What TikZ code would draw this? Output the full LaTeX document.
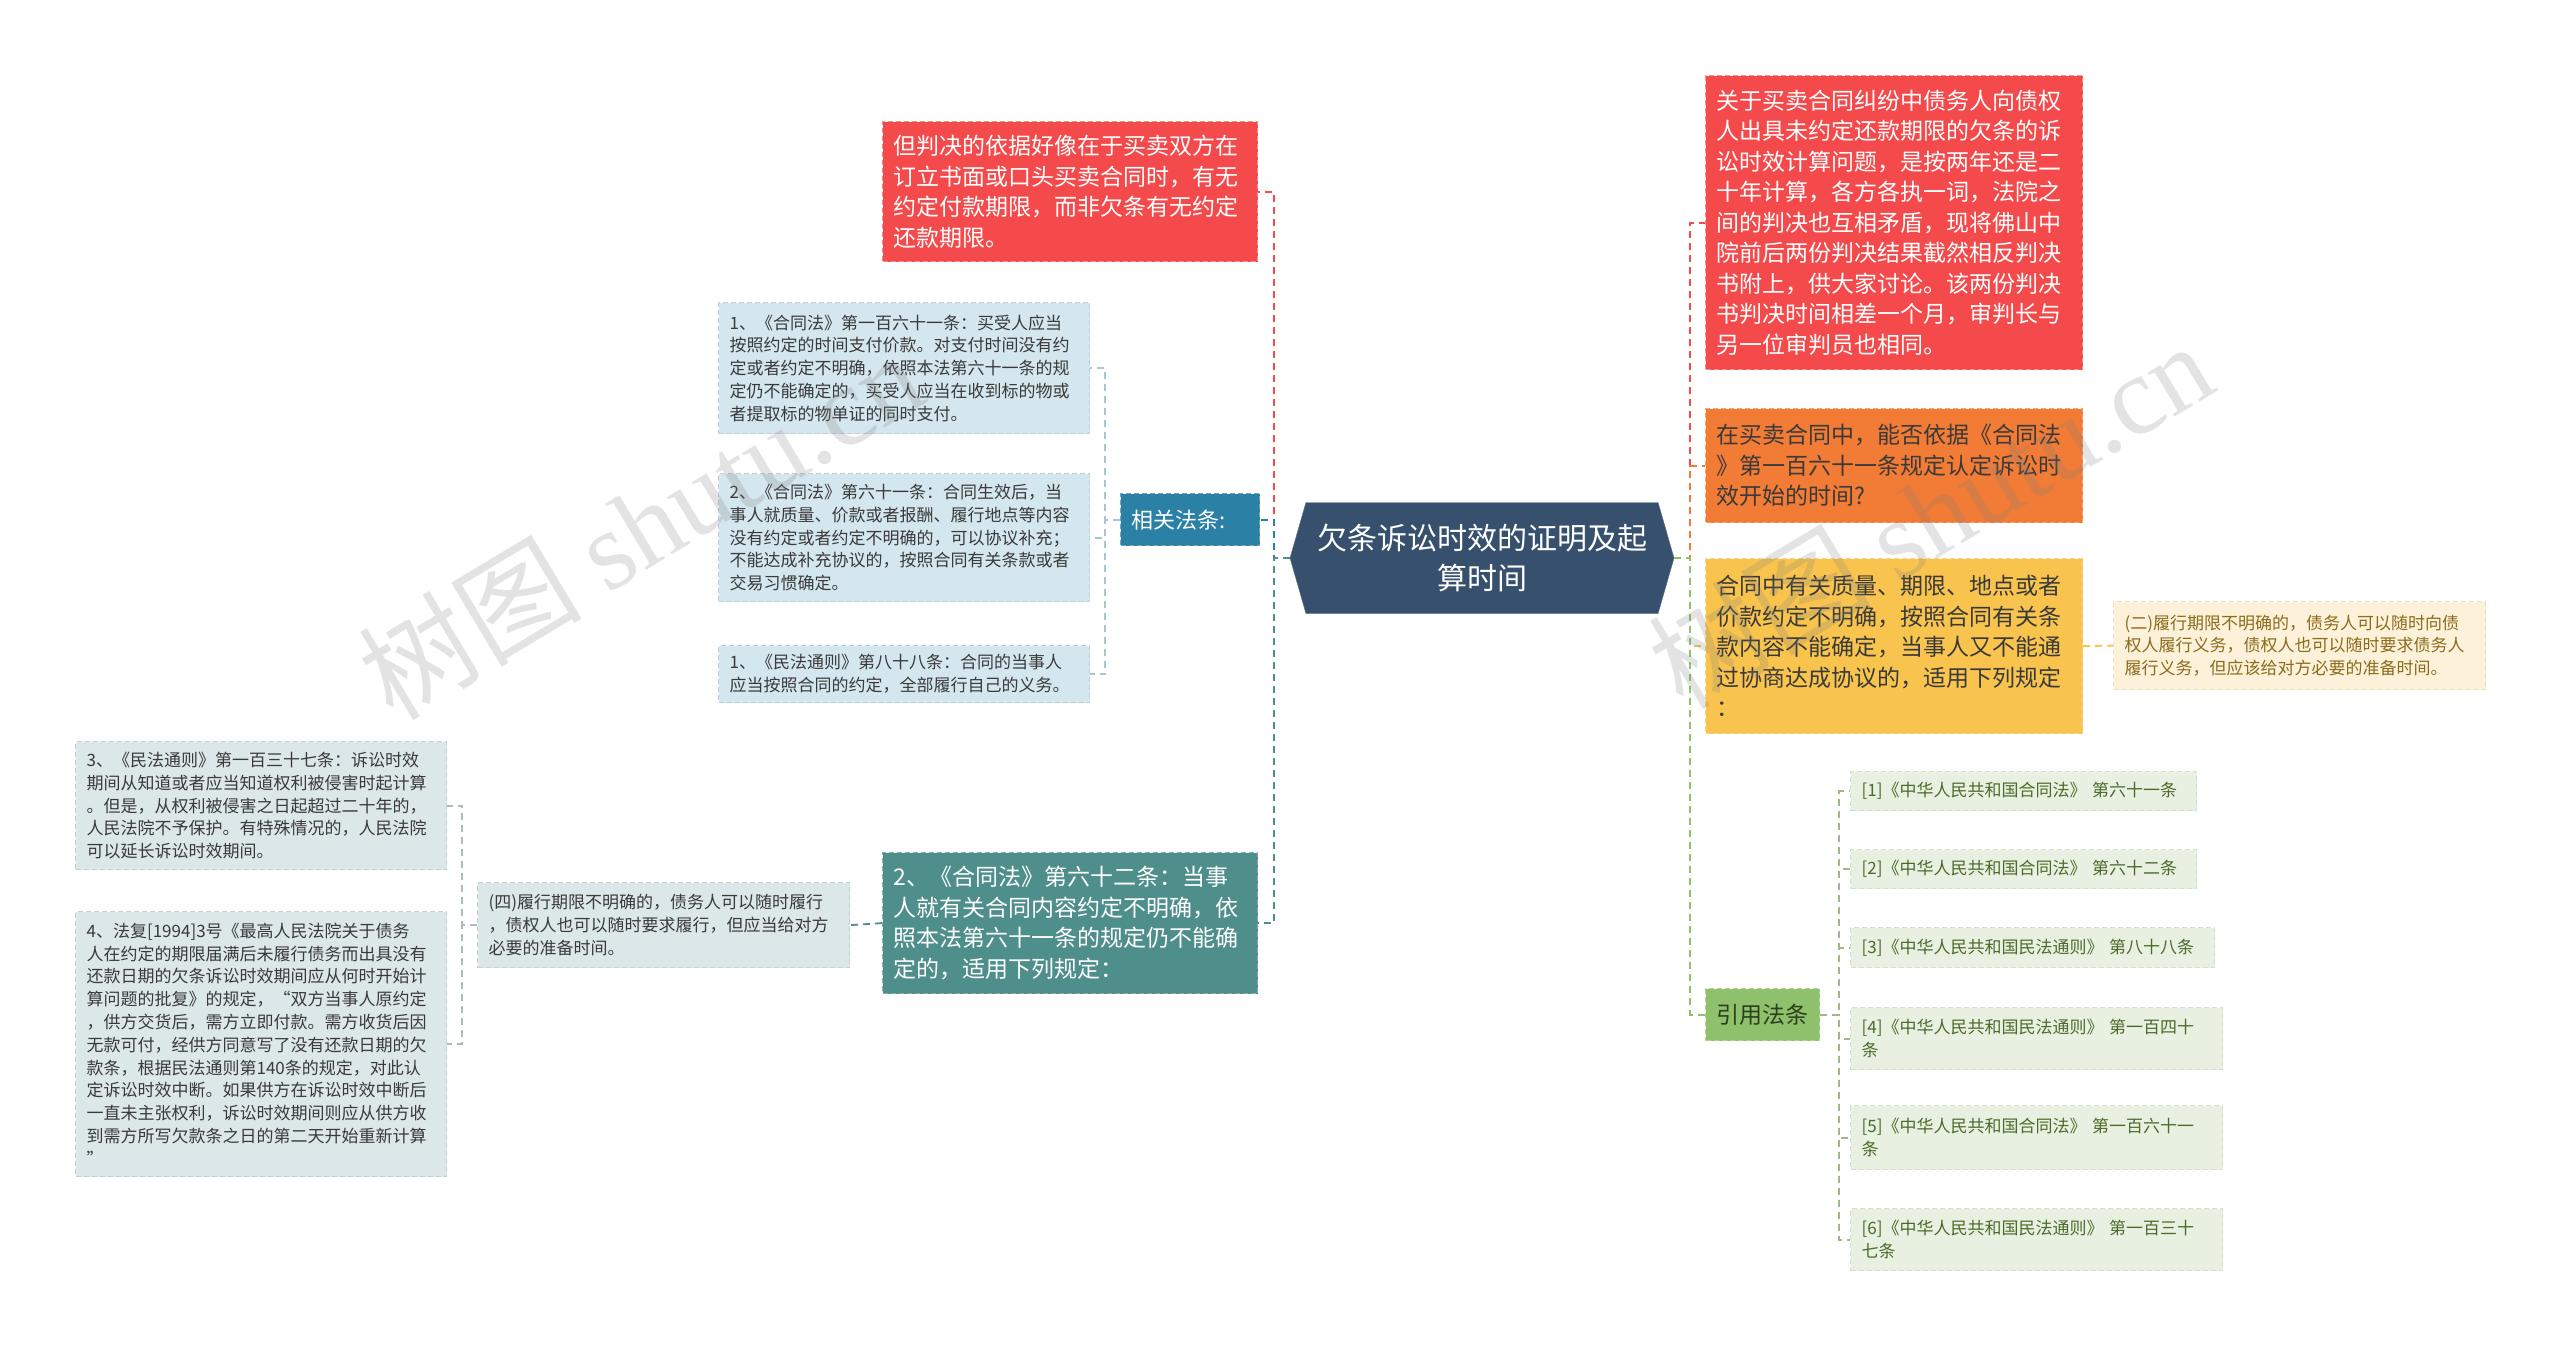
\documentclass[tikz,border=0pt]{standalone}
\usepackage{fontspec}
\setmainfont{Noto Sans CJK SC}
\newfontfamily\wmlatin{Liberation Serif}
\usetikzlibrary{shapes.symbols}
\definecolor{cen}{HTML}{36506D}
\definecolor{redc}{HTML}{F44A4B}
\definecolor{redb}{HTML}{F88A8A}
\definecolor{bluec}{HTML}{2B80A6}
\definecolor{tealc}{HTML}{4E8E8B}
\definecolor{lbc}{HTML}{D4E6EE}
\definecolor{lbl}{HTML}{A9C6D2}
\definecolor{grc}{HTML}{DCE7E9}
\definecolor{grl}{HTML}{A9BDC1}
\definecolor{orc}{HTML}{F27B35}
\definecolor{yec}{HTML}{F8C44D}
\definecolor{crc}{HTML}{FDF2D9}
\definecolor{crt}{HTML}{8B6B1C}
\definecolor{gnc}{HTML}{8FC06C}
\definecolor{gnt}{HTML}{2A3F1C}
\definecolor{rfc}{HTML}{E8F1E1}
\definecolor{rft}{HTML}{4C6B2A}
\definecolor{rfl}{HTML}{9DB98A}
\definecolor{txt}{HTML}{3A3A3A}
\begin{document}
\begin{tikzpicture}[x=1pt,y=-1pt,
  bx/.style={rectangle, anchor=north west, inner xsep=11pt, inner ysep=3pt, align=left, dash pattern=on 5pt off 3pt, line width=1.2pt},
  big/.style={font=\fontsize{23}{30.5}\selectfont},
  sm/.style={font=\fontsize{17}{22.8}\selectfont},
  ln/.style={line width=1.8pt, dash pattern=on 7pt off 5pt},
  wm/.style={rotate=31, text=gray, opacity=0.22, font=\fontsize{112}{112}\selectfont},
]
\useasboundingbox[fill=white] (0,0) rectangle (2560,1345);

% central
\node[signal, signal to=west and east, signal pointer angle=148, fill=cen, draw=cen!80!white, minimum width=384pt, minimum height=111pt, inner sep=0pt, text=white, align=center, font=\fontsize{30}{40}\selectfont] (c) at (1482,558) {欠条诉讼时效的证明及起\\算时间};

% left side
\node[bx,big,fill=redc,draw=redb,text=white,text width=353pt,minimum height=140pt] (rl) at (882,121) {但判决的依据好像在于买卖双方在\\订立书面或口头买卖合同时，有无\\约定付款期限，而非欠条有无约定\\还款期限。};
\node[bx,fill=bluec,draw=bluec!70!white,text=white,text width=117pt,minimum height=52pt,font=\fontsize{22}{26}\selectfont] (xg) at (1120,493) {相关法条:};
\node[bx,big,fill=tealc,draw=tealc!70!white,text=white,text width=353pt,minimum height=141pt] (tl) at (882,852) {2、《合同法》第六十二条：当事\\人就有关合同内容约定不明确，依\\照本法第六十一条的规定仍不能确\\定的，适用下列规定：};

\node[bx,sm,fill=lbc,draw=lbc!90!black,text=txt,text width=349pt,minimum height=131pt] (b1) at (718,302) {1、《合同法》第一百六十一条：买受人应当\\按照约定的时间支付价款。对支付时间没有约\\定或者约定不明确，依照本法第六十一条的规\\定仍不能确定的，买受人应当在收到标的物或\\者提取标的物单证的同时支付。};
\node[bx,sm,fill=lbc,draw=lbc!90!black,text=txt,text width=349pt,minimum height=128pt] (b2) at (718,473) {2、《合同法》第六十一条：合同生效后，当\\事人就质量、价款或者报酬、履行地点等内容\\没有约定或者约定不明确的，可以协议补充；\\不能达成补充协议的，按照合同有关条款或者\\交易习惯确定。};
\node[bx,sm,fill=lbc,draw=lbc!90!black,text=txt,text width=349pt,minimum height=57pt] (b3) at (718,645) {1、《民法通则》第八十八条：合同的当事人\\应当按照合同的约定，全部履行自己的义务。};

\node[bx,sm,fill=grc,draw=grc!90!black,text=txt,text width=350pt,minimum height=85pt] (s4) at (477,882) {(四)履行期限不明确的，债务人可以随时履行\\，债权人也可以随时要求履行，但应当给对方\\必要的准备时间。};
\node[bx,sm,fill=grc,draw=grc!90!black,text=txt,text width=349pt,minimum height=128pt] (l3) at (75,741) {3、《民法通则》第一百三十七条：诉讼时效\\期间从知道或者应当知道权利被侵害时起计算\\。但是，从权利被侵害之日起超过二十年的，\\人民法院不予保护。有特殊情况的，人民法院\\可以延长诉讼时效期间。};
\node[bx,sm,fill=grc,draw=grc!90!black,text=txt,text width=349pt,minimum height=265pt] (l4) at (75,911) {4、法复[1994]3号《最高人民法院关于债务\\人在约定的期限届满后未履行债务而出具没有\\还款日期的欠条诉讼时效期间应从何时开始计\\算问题的批复》的规定，“双方当事人原约定\\，供方交货后，需方立即付款。需方收货后因\\无款可付，经供方同意写了没有还款日期的欠\\款条，根据民法通则第140条的规定，对此认\\定诉讼时效中断。如果供方在诉讼时效中断后\\一直未主张权利，诉讼时效期间则应从供方收\\到需方所写欠款条之日的第二天开始重新计算\\”};

% right side
\node[bx,big,fill=redc,draw=redb,text=white,text width=355pt,minimum height=294pt] (rr) at (1705,75) {关于买卖合同纠纷中债务人向债权\\人出具未约定还款期限的欠条的诉\\讼时效计算问题，是按两年还是二\\十年计算，各方各执一词，法院之\\间的判决也互相矛盾，现将佛山中\\院前后两份判决结果截然相反判决\\书附上，供大家讨论。该两份判决\\书判决时间相差一个月，审判长与\\另一位审判员也相同。};
\node[bx,big,fill=orc,draw=orc!70!white,text=txt,text width=355pt,minimum height=114pt] (or) at (1705,408) {在买卖合同中，能否依据《合同法\\》第一百六十一条规定认定诉讼时\\效开始的时间?};
\node[bx,big,fill=yec,draw=yec!70!white,text=txt,text width=355pt,minimum height=175pt] (ye) at (1705,558) {合同中有关质量、期限、地点或者\\价款约定不明确，按照合同有关条\\款内容不能确定，当事人又不能通\\过协商达成协议的，适用下列规定\\：};
\node[bx,sm,fill=crc,draw=crc!92!black,text=crt,text width=350pt,minimum height=88pt] (e2) at (2113,601) {(二)履行期限不明确的，债务人可以随时向债\\权人履行义务，债权人也可以随时要求债务人\\履行义务，但应该给对方必要的准备时间。};
\node[bx,fill=gnc,draw=gnc!70!white,text=gnt,text width=92pt,minimum height=52pt,font=\fontsize{23}{26}\selectfont] (gn) at (1705,988) {引用法条};

\node[bx,sm,fill=rfc,draw=rfc!92!black,text=rft,text width=324pt,minimum height=39pt] (f1) at (1850,771) {[1]《中华人民共和国合同法》 第六十一条};
\node[bx,sm,fill=rfc,draw=rfc!92!black,text=rft,text width=324pt,minimum height=39pt] (f2) at (1850,849) {[2]《中华人民共和国合同法》 第六十二条};
\node[bx,sm,fill=rfc,draw=rfc!92!black,text=rft,text width=342pt,minimum height=40pt] (f3) at (1850,927) {[3]《中华人民共和国民法通则》 第八十八条};
\node[bx,sm,fill=rfc,draw=rfc!92!black,text=rft,text width=350pt,minimum height=62pt] (f4) at (1850,1007) {[4]《中华人民共和国民法通则》 第一百四十\\条};
\node[bx,sm,fill=rfc,draw=rfc!92!black,text=rft,text width=350pt,minimum height=64pt] (f5) at (1850,1105) {[5]《中华人民共和国合同法》 第一百六十一\\条};
\node[bx,sm,fill=rfc,draw=rfc!92!black,text=rft,text width=350pt,minimum height=62pt] (f6) at (1850,1208) {[6]《中华人民共和国民法通则》 第一百三十\\七条};

% connectors left
\draw[ln,draw=redc] (c.west) -- ++(-16,0) |- (rl.east);
\draw[ln,draw=bluec] (c.west) -- ++(-16,0) |- (xg.east);
\draw[ln,draw=tealc] (c.west) -- ++(-16,0) |- (tl.east);
\draw[ln,draw=lbl] (xg.west) -- ++(-15,0) |- (b1.east);
\draw[ln,draw=lbl] (xg.west) -- ++(-15,0) |- (b2.east);
\draw[ln,draw=lbl] (xg.west) -- ++(-15,0) |- (b3.east);
\draw[ln,draw=tealc] (tl.west) -- (s4.east);
\draw[ln,draw=grl] (s4.west) -- ++(-15,0) |- (l3.east);
\draw[ln,draw=grl] (s4.west) -- ++(-15,0) |- (l4.east);

% connectors right
\draw[ln,draw=redc] (c.east) -- ++(16,0) |- (rr.west);
\draw[ln,draw=orc] (c.east) -- ++(16,0) |- (or.west);
\draw[ln,draw=yec] (c.east) -- ++(16,0) |- (ye.west);
\draw[ln,draw=gnc] (c.east) -- ++(16,0) |- (gn.west);
\draw[ln,draw=yec] (ye.east) -- (e2.west);
\foreach \f in {f1,f2,f3,f4,f5,f6}{
  \draw[ln,draw=rfl] (gn.east) -- ++(19,0) |- (\f.west);
}

% watermarks
\node[wm] (wm1) at (640,525) {树图 {\wmlatin shutu.cn}};
\node[wm] (wm2) at (1930,514) {树图 {\wmlatin shutu.cn}};
\end{tikzpicture}
\end{document}
